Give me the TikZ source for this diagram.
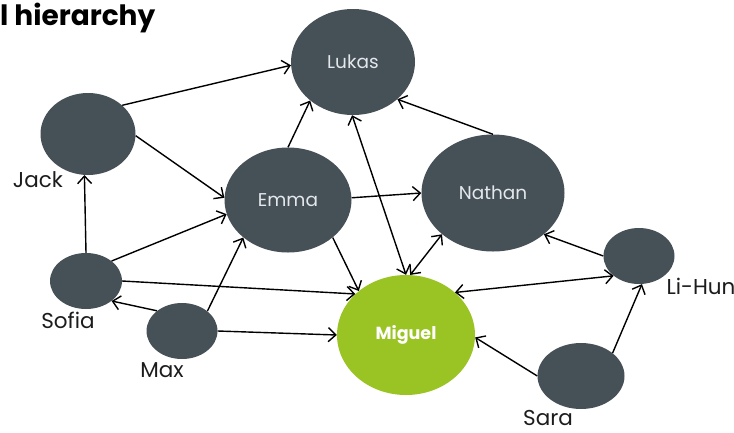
\documentclass[tikz,border=0pt]{standalone}
\usepackage{fontspec}
\setmainfont{Poppins}
\usetikzlibrary{shapes.geometric,arrows.meta}
\definecolor{nodegray}{HTML}{465057}
\definecolor{leafgreen}{HTML}{9AC424}
\definecolor{paletext}{HTML}{E4E8EC}
\definecolor{labelink}{HTML}{1C1C1C}
\tikzset{
  person/.style={ellipse, fill=nodegray, inner sep=0pt, text=paletext,
    font=\fontsize{18.5}{21}\selectfont},
  focus/.style={ellipse, fill=leafgreen, inner sep=0pt, text=white,
    font=\bfseries\fontsize{17.5}{20}\selectfont},
  namelabel/.style={text=labelink, font=\fontsize{21.5}{24}\selectfont, inner sep=0pt},
  barb/.style={Straight Barb[length=7.5pt,width=14pt]},
  link/.style={line width=1.4pt, -{Straight Barb[length=7.5pt,width=14pt]}},
  bilink/.style={line width=1.4pt, {Straight Barb[length=7.5pt,width=14pt]}-{Straight Barb[length=7.5pt,width=14pt]}},
}
\begin{document}
\begin{tikzpicture}[x=1pt,y=-1pt]
\useasboundingbox (0,0) rectangle (734,432);

% title
\node[anchor=base west, inner sep=0pt, font=\bfseries\fontsize{28}{30}\selectfont] (title) at (0,25) {l hierarchy};

% people
\node[person, minimum width=124pt, minimum height=106pt] (lukas) at (353,62) {Lukas};
\node[person, minimum width=95pt, minimum height=82pt] (jack) at (88,134) {};
\node[person, minimum width=127pt, minimum height=105pt] (emma) at (288,200) {Emma};
\node[person, minimum width=143pt, minimum height=117pt] (nathan) at (493,193) {Nathan};
\node[person, minimum width=71pt, minimum height=56pt] (lihun) at (639,256) {};
\node[focus, minimum width=138pt, minimum height=120pt] (miguel) at (406,335) {Miguel};
\node[person, minimum width=72pt, minimum height=56pt] (sofia) at (86,281) {};
\node[person, minimum width=71pt, minimum height=56pt] (max) at (182,331) {};
\node[person, minimum width=87pt, minimum height=66pt] (sara) at (581,376) {};

% outside name labels
\node[namelabel] (jacklbl) at (38,180) {Jack};
\node[namelabel] (sofialbl) at (68,320) {Sofia};
\node[namelabel] (maxlbl) at (162,370) {Max};
\node[namelabel] (saralbl) at (548,418) {Sara};
\node[namelabel] (lihunlbl) at (701,286) {Li-Hun};

% connections
\draw[link] (jack.40) -- (lukas.183);
\draw[link] (jack.358) -- (emma.178);
\draw[link] (sofia.90) -- (jack.265);
\draw[link] (sofia.38) -- (emma.193);
\draw[link] (sofia.0) -- (miguel.141);
\draw[link] (max.141) -- (sofia.322);
\draw[link] (max.38) -- (emma.220);
\draw[link] (max.0) -- (miguel.180);
\draw[link] (emma.90) -- (lukas.222);
\draw[link] (emma.2) -- (nathan.180);
\draw[link] (emma.320) -- (miguel.137);
\draw[bilink] (lukas.269) -- (miguel.90);
\draw[link] (nathan.90) -- (lukas.320);
\draw[bilink] (nathan.219) -- (miguel.86);
\draw[link] (lihun.180) -- (nathan.321);
\draw[bilink] (lihun.218) -- (miguel.41);
\draw[link] (sara.36) -- (lihun.276);
\draw[link] (sara.180) -- (miguel.358);
\end{tikzpicture}
\end{document}
